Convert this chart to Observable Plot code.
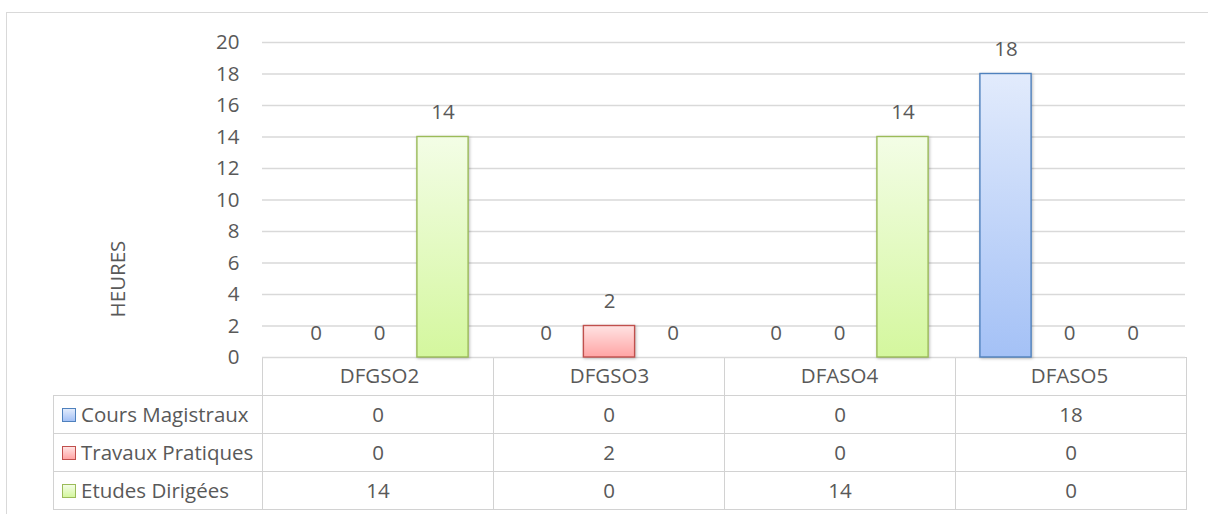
<!DOCTYPE html>
<html><head><meta charset="utf-8">
<script src="https://cdn.jsdelivr.net/npm/d3@7"></script>
<script src="https://cdn.jsdelivr.net/npm/@observablehq/plot@0.6"></script>
<style>
html,body{margin:0;padding:0;background:#fff;overflow:hidden;}
#wrap{position:relative;width:1208px;height:514px;font-family:"Open Sans",sans-serif;color:#595959;overflow:hidden;}
#frame{position:absolute;left:6px;top:12px;width:1230px;height:530px;border:1.5px solid #d9d9d9;box-sizing:border-box;}
#tbl{position:absolute;left:53px;top:357px;border-collapse:collapse;table-layout:fixed;font-size:20.5px;color:#595959;}
#tbl td{border:1px solid #d2d2d2;height:37px;padding:0;text-align:center;white-space:nowrap;line-height:1;}
#tbl td.corner{border-top:none;border-left:none;}
#tbl td.leg{text-align:left;}
.sw{display:inline-block;width:12px;height:12px;border:1px solid;margin-left:8px;margin-right:5px;vertical-align:0px;}
#chart{position:absolute;left:0;top:0;}
</style>
</head><body>
<div id="wrap"><div id="frame"></div><table id="tbl"></table><div id="chart"></div></div>
<script>
const categories = ["DFGSO2", "DFGSO3", "DFASO4", "DFASO5"];
const series = ["Cours Magistraux", "Travaux Pratiques", "Etudes Dirigées"];
const coursMagistraux = [0, 0, 0, 18];
const travauxPratiques = [0, 2, 0, 0];
const etudesDirigees = [14, 0, 14, 0];
const yTicks = [0, 2, 4, 6, 8, 10, 12, 14, 16, 18, 20];
const yLabel = "HEURES";

const values = [coursMagistraux, travauxPratiques, etudesDirigees];
const strokes = ["#4f81bd", "#c0504d", "#9bbb59"];
const gradTop = ["#e2ebfc", "#ffe3e3", "#f3fde6"];
const gradBottom = ["#a4c1f6", "#ffa4a4", "#d4f79e"];
const offsets = [-63.5, 0, 63.5];
const fs = 20.5;

const rows = series.flatMap((s, si) => categories.map((c, ci) => ({category: c, series: s, value: values[si][ci]})));

const marks = [Plot.ruleY(yTicks, {stroke: "#d9d9d9", strokeWidth: 1.3})];
series.forEach((s, i) => {
  marks.push(Plot.barY(rows.filter(d => d.series === s && d.value > 0), {
    x: "category", y: "value", fill: `url(#grad${i})`, stroke: strokes[i], strokeWidth: 1.4,
    insetLeft: 89.4, insetRight: 89.4, dx: offsets[i]
  }));
});
series.forEach((s, i) => {
  marks.push(Plot.text(rows.filter(d => d.series === s), {
    x: "category", y: "value", text: d => String(d.value), dx: offsets[i], dy: -24.5,
    fill: "#595959", fontSize: fs
  }));
});
marks.push(Plot.text([yLabel], {text: d => d, frameAnchor: "left", textAnchor: "middle", rotate: -90, dx: -144, dy: 79, fill: "#595959", fontSize: fs}));

const svg = Plot.plot({
  width: 1208, height: 392,
  marginLeft: 262, marginRight: 23, marginTop: 42, marginBottom: 35,
  style: {background: "none", fontFamily: "'Open Sans', sans-serif", fontSize: fs + "px", color: "#595959"},
  x: {domain: categories, padding: 0, tickSize: 0, tickPadding: 11, label: null},
  y: {domain: [0, 20], ticks: yTicks, tickSize: 0, tickPadding: 23, label: null},
  marks
});
const defs = d3.select(svg).insert("defs", ":first-child");
series.forEach((s, i) => {
  const g = defs.append("linearGradient").attr("id", `grad${i}`).attr("x1", 0).attr("y1", 0).attr("x2", 0).attr("y2", 1);
  g.append("stop").attr("offset", "0%").attr("stop-color", gradTop[i]);
  g.append("stop").attr("offset", "100%").attr("stop-color", gradBottom[i]);
});
d3.select(svg).selectAll("g[aria-label='bar']").style("filter", "drop-shadow(1px 1px 1.5px rgba(0,0,0,0.25))");
document.getElementById("chart").appendChild(svg);

// data table (legend + values) below the plot
let html = "<colgroup><col style='width:209px'>" + categories.map(() => "<col style='width:231px'>").join("") + "</colgroup>";
html += "<tr><td class='corner'></td>" + categories.map(() => "<td></td>").join("") + "</tr>";
series.forEach((s, i) => {
  html += `<tr><td class='leg'><span class='sw' style='background:linear-gradient(${gradTop[i]},${gradBottom[i]});border-color:${strokes[i]}'></span>${s}</td>` +
    values[i].map(v => `<td>${v}</td>`).join("") + "</tr>";
});
document.getElementById("tbl").innerHTML = html;
</script>
</body></html>
